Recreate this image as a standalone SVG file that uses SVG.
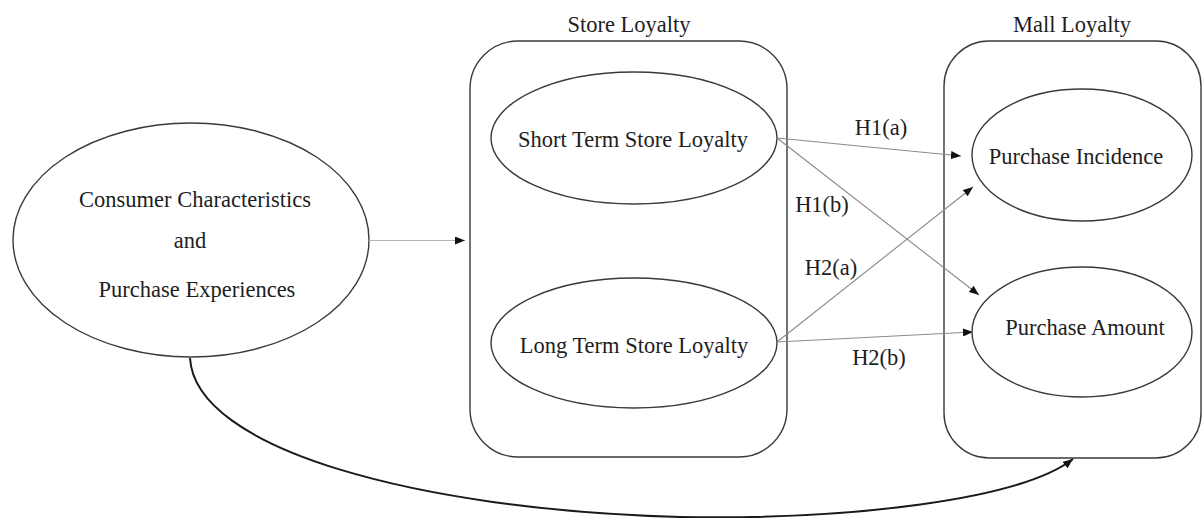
<svg xmlns="http://www.w3.org/2000/svg" width="1203" height="518" viewBox="0 0 1203 518">
<style>
.shape{fill:none;stroke:#3a3a3a;stroke-width:1.4}
.lbl{font-family:"Liberation Serif","Times New Roman",serif;font-size:22.5px;fill:#1e1e1e;text-anchor:middle}
.thin{fill:none;stroke:#8a8a8a;stroke-width:1.1}
.light{fill:none;stroke:#b5b5b5;stroke-width:1.1}
.curve{fill:none;stroke:#1a1a1a;stroke-width:2}
</style>
<defs>
<marker id="arr" markerUnits="userSpaceOnUse" markerWidth="11" markerHeight="8" refX="10" refY="4" orient="auto">
<path d="M0,0 L10,4 L0,8 z" fill="#111"/>
</marker>
</defs>
<rect width="1203" height="518" fill="#fff"/>
<g id="store-loyalty">
<rect class="shape" x="470" y="41" width="317" height="416" rx="48" ry="48"/>
<text class="lbl" x="629" y="32">Store Loyalty</text>
</g>
<g id="mall-loyalty">
<rect class="shape" x="944" y="41" width="257" height="417" rx="45" ry="45"/>
<text class="lbl" x="1072" y="32">Mall Loyalty</text>
</g>
<g id="consumer">
<ellipse class="shape" cx="191" cy="240" rx="178" ry="117"/>
<text class="lbl" x="195" y="207">Consumer Characteristics</text>
<text class="lbl" x="190" y="248">and</text>
<text class="lbl" x="197" y="297">Purchase Experiences</text>
</g>
<g id="short-term">
<ellipse class="shape" cx="634" cy="138" rx="143" ry="66"/>
<text class="lbl" x="633" y="147">Short Term Store Loyalty</text>
</g>
<g id="long-term">
<ellipse class="shape" cx="634" cy="343" rx="143" ry="65"/>
<text class="lbl" x="634" y="353">Long Term Store Loyalty</text>
</g>
<g id="purchase-incidence">
<ellipse class="shape" cx="1082" cy="155" rx="110" ry="66"/>
<text class="lbl" x="1076" y="164">Purchase Incidence</text>
</g>
<g id="purchase-amount">
<ellipse class="shape" cx="1082" cy="332" rx="110" ry="65"/>
<text class="lbl" x="1085" y="335">Purchase Amount</text>
</g>
<g id="connectors">
<path class="light" d="M369,240.5 L465,240.5" marker-end="url(#arr)"/>
<path class="thin" d="M777,138 L961,156" marker-end="url(#arr)"/>
<path class="thin" d="M777,138 L979,295" marker-end="url(#arr)"/>
<path class="thin" d="M777,342 L973,187" marker-end="url(#arr)"/>
<path class="thin" d="M777,342 L973,332" marker-end="url(#arr)"/>
<path class="curve" d="M190,358 C195,450 420,510 680,517 C850,520 1020,500 1073,459" marker-end="url(#arr)"/>
<text class="lbl" x="881" y="135">H1(a)</text>
<text class="lbl" x="822" y="212">H1(b)</text>
<text class="lbl" x="831" y="275">H2(a)</text>
<text class="lbl" x="879" y="365">H2(b)</text>
</g>
</svg>
